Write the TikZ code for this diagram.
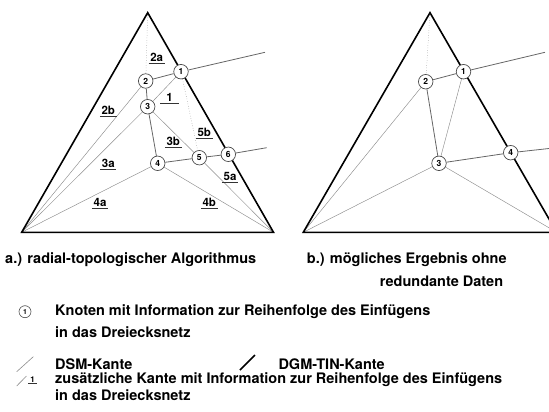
\documentclass[tikz,border=0pt]{standalone}
\usepackage{fontspec}
\setmainfont{TeX Gyre Heros}
\usetikzlibrary{backgrounds}
\begin{document}
\begin{tikzpicture}[x=1pt,y=-1pt,
  tri/.style={line width=1.6pt, line join=miter, draw=black},
  dgm/.style={line width=0.8pt, draw=black!60},
  dsm/.style={line width=0.45pt, draw=black!45},
  dsmdot/.style={line width=0.5pt, draw=black!45, dotted},
  knot/.style={circle, draw=black!70, line width=0.7pt, fill=white, minimum size=14.5pt, inner sep=0pt, font=\fontsize{8.5}{8.5}\selectfont\bfseries},
  lknot/.style={circle, draw=black!70, line width=0.6pt, fill=white, minimum size=12pt, inner sep=0pt, font=\fontsize{7}{7}\selectfont\bfseries},
  elab/.style={font=\fontsize{11.5}{11.5}\selectfont\bfseries, inner xsep=1.5pt, inner ysep=1.5pt},
  ul/.style={line width=0.6pt, draw=black!80},
  txt/.style={font=\fontsize{14.5}{14.5}\selectfont\bfseries, anchor=west, inner sep=0pt},
  ctxt/.style={font=\fontsize{14.5}{14.5}\selectfont\bfseries, inner sep=0pt}]
\useasboundingbox (0,0) rectangle (549,412);
\clip (0,0) rectangle (549,412);

% ---------- a.) ----------
\coordinate (A1) at (147.7,12.7);
\coordinate (A2) at (21.7,232.3);
\coordinate (A3) at (273.5,232.3);
\coordinate (ae1) at (265,52.3);
\coordinate (ae6) at (266.7,147.7);
\node[knot] (a1) at (181,71.7) {1};
\node[knot] (a2) at (145.7,81) {2};
\node[knot] (a3) at (147.7,106.7) {3};
\node[knot] (a4) at (157.7,163.3) {4};
\node[knot] (a5) at (199.3,157.7) {5};
\node[knot] (a6) at (228.3,154.3) {6};
\begin{pgfonlayer}{background}
  \draw[dsmdot] (A1) -- (a2);
  \draw[dsmdot] (a1) -- (a5);
  \draw[dsm] (a2) -- (A2);
  \draw[dsm] (a1) -- (a3);
  \draw[dsm] (a3) -- (A2);
  \draw[dsm] (a3) -- (a5);
  \draw[dsm] (a4) -- (A2);
  \draw[dsm] (a4) -- (A3);
  \draw[dsm] (a5) -- (A3);
  \draw[dgm] (a2) -- (a1);
  \draw[dgm] (a2) -- (a3);
  \draw[dgm] (a3) -- (a4);
  \draw[dgm] (a4) -- (a5);
  \draw[dgm] (a5) -- (a6);
  \draw[dgm] (a1) -- (ae1);
  \draw[dgm] (a6) -- (ae6);
  \draw[tri] (A1) -- (A2) -- (A3) -- cycle;
\end{pgfonlayer}
\foreach \n/\p/\t in {l2a/{(156.7,57)}/2a, l2b/{(108.3,110.5)}/2b, l3b/{(173.3,141.5)}/3b, l5b/{(204.3,132.5)}/5b, l3a/{(108.3,163)}/3a, l5a/{(230,176.5)}/5a, l4a/{(100,202.5)}/4a, l4b/{(209.3,202.5)}/4b}{
  \node[elab] (\n) at \p {\t};
  \draw[ul] (\n.south west) -- (\n.south east);
}
\node[elab, minimum width=18pt] (l1) at (169.5,97.5) {1};
\draw[ul] (l1.south west) -- (l1.south east);

% ---------- b.) ----------
\coordinate (B1) at (430,12.7);
\coordinate (B2) at (303.3,232.3);
\coordinate (B3) at (556.7,232.3);
\coordinate (be1) at (545,52.3);
\coordinate (be4) at (560,147.3);
\node[knot] (b1) at (463.5,71.7) {1};
\node[knot] (b2) at (425.7,81.7) {2};
\node[knot] (b3) at (439,163.3) {3};
\node[knot] (b4) at (510.7,152.7) {4};
\begin{pgfonlayer}{background}
  \draw[dsmdot] (B1) -- (b2);
  \draw[dsm] (b2) -- (B2);
  \draw[dsm] (b1) -- (b3);
  \draw[dsm] (b3) -- (B2);
  \draw[dsm] (b3) -- (B3);
  \draw[dgm] (b2) -- (b1);
  \draw[dgm] (b2) -- (b3);
  \draw[dgm] (b3) -- (b4);
  \draw[dgm] (b1) -- (be1);
  \draw[dgm] (b4) -- (be4);
  \draw[tri] (B1) -- (B2) -- (B3) -- cycle;
\end{pgfonlayer}

% ---------- captions ----------
\node[txt] (capa) at (5,260) {a.) radial-topologischer Algorithmus};
\node[txt] (capb) at (306.7,260) {b.) mögliches Ergebnis ohne};
\node[ctxt] (capb2) at (441.5,281.7) {redundante Daten};

% ---------- legend ----------
\node[lknot] (lk) at (25,311.7) {1};
\node[txt] (lt1) at (55,311.7) {Knoten mit Information zur Reihenfolge des Einfügens};
\node[txt] (lt1b) at (55,331.7) {in das Dreiecksnetz};
\coordinate (ds1) at (16.7,371.7);
\coordinate (ds2) at (33.3,356.7);
\draw[dsm, line width=0.6pt] (ds1) -- (ds2);
\node[txt] (lt2) at (55,364) {DSM-Kante};
\coordinate (dg1) at (240,370);
\coordinate (dg2) at (255,355);
\draw[tri] (dg1) -- (dg2);
\node[txt] (lt3) at (278.3,364) {DGM-TIN-Kante};
\coordinate (zs1) at (16.7,386);
\coordinate (zs2) at (26.5,376);
\draw[dsm, line width=0.6pt] (zs1) -- (zs2);
\node[font=\fontsize{8}{8}\selectfont\bfseries, inner xsep=2pt, inner ysep=1.2pt] (zl) at (32.5,379.5) {1};
\draw[ul] (zl.south west) -- (zl.south east);
\node[txt] (lt4) at (55,380) {zusätzliche Kante mit Information zur Reihenfolge des Einfügens};
\node[txt] (lt4b) at (55,395.5) {in das Dreiecksnetz};
\end{tikzpicture}
\end{document}
